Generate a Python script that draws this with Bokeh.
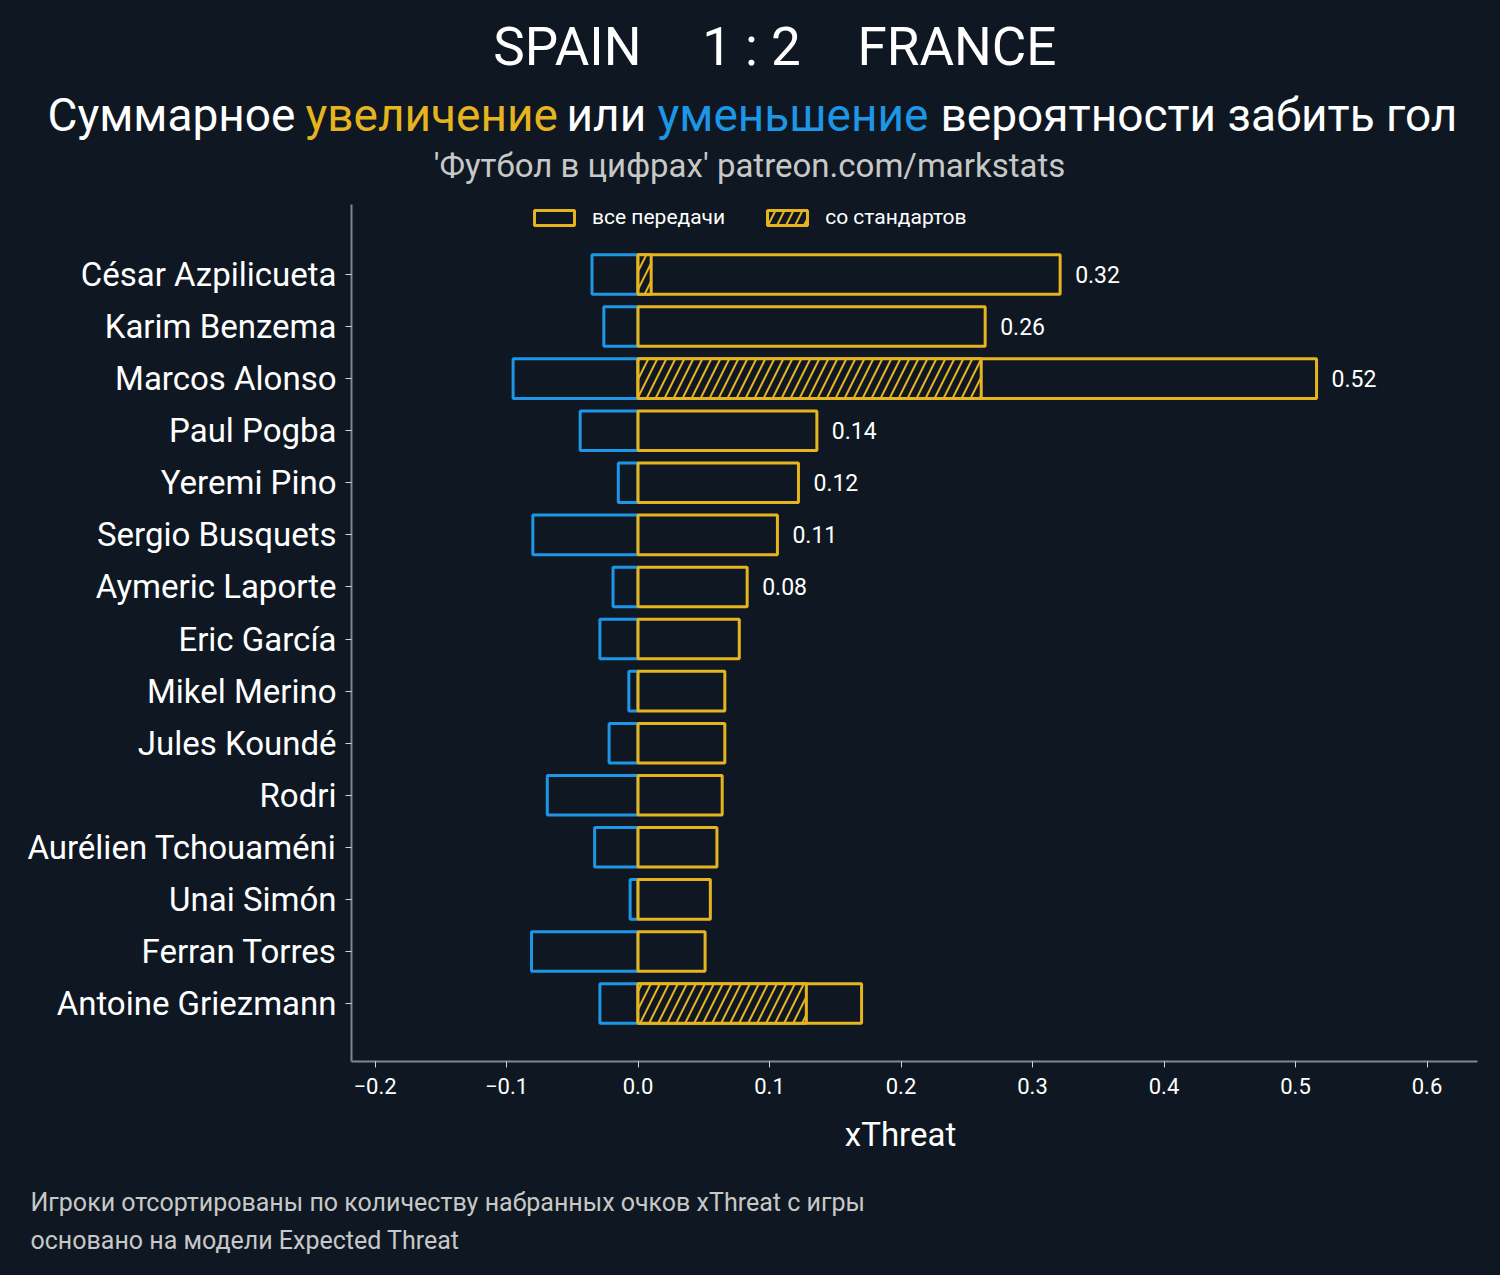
from bokeh.plotting import figure
from bokeh.layouts import column
from bokeh.models import (ColumnDataSource, Range1d, Legend, LegendItem,
                          FixedTicker, GlobalInlineStyleSheet)
from bokeh.core.properties import value
from bokeh.embed import file_html
from bokeh.resources import INLINE

# ---------------- data ----------------
players = ["César Azpilicueta", "Karim Benzema", "Marcos Alonso", "Paul Pogba", "Yeremi Pino",
           "Sergio Busquets", "Aymeric Laporte", "Eric García", "Mikel Merino", "Jules Koundé",
           "Rodri", "Aurélien Tchouaméni", "Unai Simón", "Ferran Torres", "Antoine Griezmann"]
xt_gain = [0.321, 0.264, 0.516, 0.136, 0.122, 0.106, 0.083, 0.077, 0.066, 0.066,
           0.064, 0.060, 0.055, 0.051, 0.170]
xt_loss = [-0.035, -0.026, -0.095, -0.044, -0.015, -0.080, -0.019, -0.029, -0.007, -0.022,
           -0.069, -0.033, -0.006, -0.081, -0.029]
xt_setpiece = [0.010, 0.0, 0.261, 0.0, 0.0, 0.0, 0.0, 0.0, 0.0, 0.0,
               0.0, 0.0, 0.0, 0.0, 0.128]
n_labeled = 7
x_ticks = [-0.2, -0.1, 0.0, 0.1, 0.2, 0.3, 0.4, 0.5, 0.6]
x_tick_labels = ["−0.2", "−0.1", "0.0", "0.1", "0.2", "0.3", "0.4", "0.5", "0.6"]

# ---------------- style ----------------
BG = "#0f1822"
YEL = "#e6b41e"
BLU = "#1e96e6"
AXC = "#7a8a8c"
TXT = "#ffffff"
GRY = "#c8c8c8"
FONT = "Roboto"

W = 1500
H_HEAD = 204
H_MAIN = 906
H_FOOT = 165


def blank_fig(h, y_top):
    f = figure(width=W, height=h, output_backend="svg", toolbar_location=None,
               x_range=Range1d(0, W), y_range=Range1d(y_top + h, y_top),
               min_border=0, background_fill_color=BG, border_fill_color=BG,
               outline_line_color=None, frame_align=False)
    f.axis.visible = False
    f.grid.visible = False
    return f


def txt(f, x, y, text, size, color=TXT, align="left"):
    f.text(x=[x], y=[y], text=[text], text_font=value(FONT), text_font_size=size,
           text_color=color, text_align=align, text_baseline="alphabetic")


# ---------------- header ----------------
head = blank_fig(H_HEAD, 0)
txt(head, 641, 46, "SPAIN", "53px", align="right")
txt(head, 751, 46, "1 : 2", "53px", align="center")
txt(head, 857, 46, "FRANCE", "53px", align="left")

txt(head, 47, 114, "Суммарное", "46px")
txt(head, 305, 114, "увеличение", "46px", color=YEL)
txt(head, 566, 114, "или", "46px")
txt(head, 657, 114, "уменьшение", "46px", color=BLU)
txt(head, 940, 114, "вероятности забить гол", "46px")

txt(head, 749, 165, "'Футбол в цифрах' patreon.com/markstats", "33px", color=GRY, align="center")

# ---------------- main chart ----------------
n = len(players)
ypos = list(range(n))
p = figure(width=W, height=H_MAIN, output_backend="svg", toolbar_location=None,
           x_range=Range1d(-0.2179, 0.6384), y_range=Range1d(n - 1 + 1.113, -1.344),
           min_border_left=351, min_border_right=23, min_border_top=0, min_border_bottom=49,
           background_fill_color=BG, border_fill_color=BG, outline_line_color=None,
           frame_align=False)
p.grid.visible = False

src = ColumnDataSource(dict(y=ypos, gain=xt_gain, loss=xt_loss, zero=[0.0] * n,
                            lbl=[f"{v:.2f}" if i < n_labeled else "" for i, v in enumerate(xt_gain)]))
sp_idx = [i for i, v in enumerate(xt_setpiece) if v > 0]
sp_src = ColumnDataSource(dict(y=sp_idx, sp=[xt_setpiece[i] for i in sp_idx],
                               zero=[0.0] * len(sp_idx)))

BH = 0.76
p.hbar(y="y", left="loss", right="zero", height=BH, source=src,
       fill_color=BG, line_color=BLU, line_width=3)
r_all = p.hbar(y="y", left="zero", right="gain", height=BH, source=src,
               fill_color=BG, line_color=YEL, line_width=3)
r_sp = p.hbar(y="y", left="zero", right="sp", height=BH, source=sp_src,
              fill_color=BG, line_color=YEL, line_width=3,
              hatch_pattern="/", hatch_color=YEL, hatch_scale=18, hatch_weight=2)
p.text(x="gain", y="y", text="lbl", source=src, x_offset=15,
       text_font=value(FONT), text_font_size="23px", text_color=TXT,
       text_baseline="middle", text_align="left")

p.xaxis.ticker = FixedTicker(ticks=x_ticks)
p.xaxis.major_label_overrides = {t: l for t, l in zip(x_ticks, x_tick_labels)}
p.xaxis.minor_tick_line_color = None
p.xaxis.major_tick_in = 0
p.xaxis.major_tick_out = 6
p.xaxis.major_tick_line_color = "#cfd6d6"
p.xaxis.axis_line_color = AXC
p.xaxis.axis_line_width = 2
p.xaxis.major_label_text_font = FONT
p.xaxis.major_label_text_font_size = "22px"
p.xaxis.major_label_text_color = TXT
p.xaxis.major_label_standoff = 10

p.yaxis.ticker = FixedTicker(ticks=ypos)
p.yaxis.major_label_overrides = {i: name for i, name in zip(ypos, players)}
p.yaxis.minor_tick_line_color = None
p.yaxis.major_tick_in = 0
p.yaxis.major_tick_out = 6
p.yaxis.major_tick_line_color = "#cfd6d6"
p.yaxis.axis_line_color = AXC
p.yaxis.axis_line_width = 2
p.yaxis.major_label_text_font = FONT
p.yaxis.major_label_text_font_size = "33px"
p.yaxis.major_label_text_color = TXT
p.yaxis.major_label_standoff = 9

legend = Legend(items=[LegendItem(label="все передачи", renderers=[r_all]),
                       LegendItem(label="со стандартов", renderers=[r_sp])],
                orientation="horizontal", location=(178, 832),
                glyph_width=50, glyph_height=19, label_standoff=13, spacing=37,
                padding=0, margin=0, label_height=20,
                background_fill_alpha=0, border_line_alpha=0,
                label_text_color=TXT, label_text_font=FONT, label_text_font_size="21px")
p.add_layout(legend)

# ---------------- footer ----------------
foot = blank_fig(H_FOOT, H_HEAD + H_MAIN)
txt(foot, 900, 1134, "xThreat", "33px", align="center")
txt(foot, 30, 1202, "Игроки отсортированы по количеству набранных очков xThreat с игры", "25px", color=GRY)
txt(foot, 30, 1240, "основано на модели Expected Threat", "25px", color=GRY)

layout = column(head, p, foot, spacing=0)
layout.stylesheets = [GlobalInlineStyleSheet(css="html, body { background-color: %s; }" % BG)]
open("out.html", "w").write(file_html(layout, INLINE))
